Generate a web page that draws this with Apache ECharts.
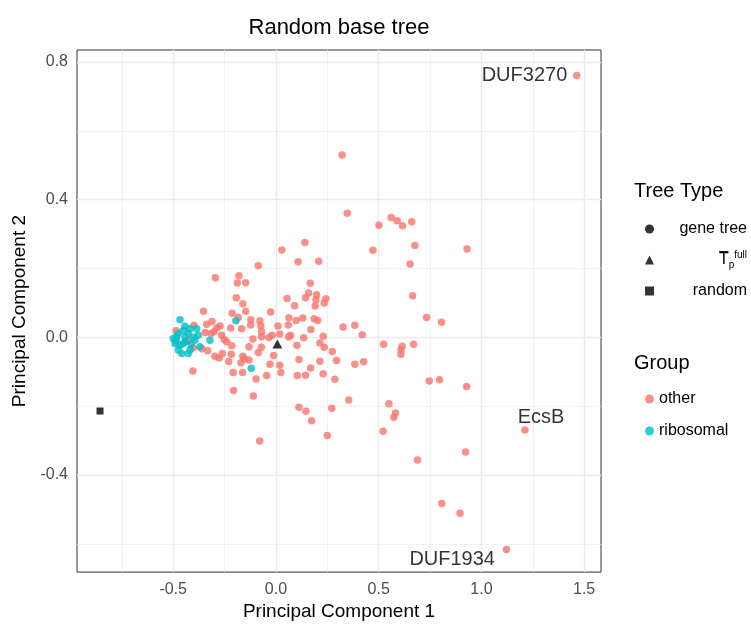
<!DOCTYPE html>
<html>
<head>
<meta charset="utf-8">
<script src="https://cdn.jsdelivr.net/npm/echarts@6/dist/echarts.min.js"></script>
<style>
html,body{margin:0;padding:0;background:#fff;}
#chart{width:751px;height:626px;}
</style>
</head>
<body>
<div id="chart"></div>
<script>
// ---- data ----
const otherPoints = [
[0.141,0.276],[0.029,0.254],[0.108,0.220],[0.208,0.221],[-0.086,0.208],[-0.295,0.173],[-0.180,0.179],[-0.188,0.158],[-0.147,0.159],[0.167,0.157],
[0.159,0.129],[0.198,0.124],[-0.193,0.115],[0.054,0.113],[0.144,0.115],[0.195,0.109],[0.243,0.112],[0.235,0.100],[-0.161,0.098],[0.091,0.092],
[0.191,0.091],[-0.352,0.076],[-0.147,0.076],[-0.213,0.070],[-0.026,0.074],[0.063,0.057],[0.099,0.049],[0.131,0.056],[0.186,0.054],[0.204,0.049],
[-0.183,0.058],[-0.311,0.046],[-0.337,0.038],[-0.122,0.051],[-0.078,0.048],[-0.123,0.036],[-0.073,0.033],[0.060,0.036],[-0.272,0.033],[-0.288,0.027],
[-0.167,0.025],[-0.220,0.027],[0.010,0.033],[0.170,0.023],[0.327,0.030],[0.384,0.035],[-0.070,0.016],[-0.018,0.006],[0.019,0.010],[0.062,0.001],
[0.071,0.006],[0.420,0.008],[-0.316,0.011],[-0.264,0.006],[-0.251,-0.006],[-0.240,-0.013],[-0.215,-0.024],[-0.112,-0.005],[-0.070,0.002],[-0.034,0.000],
[0.135,-0.001],[0.230,0.003],[0.214,-0.016],[0.235,-0.029],[0.102,-0.023],[-0.131,-0.027],[-0.071,-0.029],[0.274,-0.041],[-0.332,-0.039],[-0.086,-0.044],
[-0.011,-0.053],[-0.217,-0.049],[-0.261,-0.047],[-0.297,-0.055],[-0.276,-0.060],[-0.161,-0.055],[-0.154,-0.063],[-0.170,-0.074],[-0.230,-0.070],[0.112,-0.064],
[0.214,-0.069],[0.295,-0.067],[0.427,-0.071],[0.384,-0.078],[-0.029,-0.078],[0.019,-0.081],[0.169,-0.089],[-0.208,-0.102],[-0.162,-0.102],[0.024,-0.102],
[-0.045,-0.111],[-0.097,-0.121],[0.104,-0.111],[0.144,-0.110],[0.230,-0.106],[0.287,-0.122],[-0.206,-0.154],[-0.110,-0.170],[0.354,-0.182],[0.112,-0.203],
[0.146,-0.215],[0.272,-0.206],[0.174,-0.242],[-0.404,-0.098],[-0.486,0.019],[-0.399,0.035],[-0.344,0.014],[-0.302,0.016],[-0.427,-0.009],[-0.360,-0.033],
[-0.131,-0.066],[-0.402,-0.030],[-0.079,-0.301],
[0.322,0.530],[0.347,0.361],[0.561,0.348],[0.590,0.339],[0.616,0.324],[0.661,0.336],[0.501,0.326],[0.676,0.267],[0.472,0.253],[0.653,0.213],
[0.665,0.121],[0.733,0.058],[0.806,0.044],[0.524,-0.020],[0.614,-0.026],[0.609,-0.036],[0.608,-0.049],[0.670,-0.020],[0.746,-0.127],[0.796,-0.123],
[0.550,-0.193],[0.582,-0.220],[0.574,-0.232],[0.522,-0.273],[0.250,-0.285],[0.930,0.257],[0.928,-0.143],[0.689,-0.356],[0.923,-0.333],[0.807,-0.483],
[0.896,-0.511],
[1.464,0.761],[1.212,-0.269],[1.122,-0.616]
];
const ribosomalPoints = [
[-0.467,0.051],[-0.443,0.032],[-0.451,0.020],[-0.427,0.011],[-0.483,0.001],[-0.500,-0.003],[-0.491,-0.018],[-0.467,-0.023],[-0.451,-0.018],[-0.475,-0.037],
[-0.459,-0.047],[-0.427,-0.047],[-0.394,-0.008],[-0.378,0.006],[-0.386,0.025],[-0.402,0.001],[-0.370,-0.027],[-0.321,-0.008],[-0.418,-0.037],[-0.443,0.001],
[-0.476,0.011],[-0.438,-0.012],[-0.413,-0.021],[-0.486,-0.010],[-0.418,0.025],
[-0.195,0.048],[-0.120,-0.090]
];
const fullTreePoints = [[0.007,-0.019]];
const randomPoints = [[-0.856,-0.214]];
const labelNames = ['DUF3270','EcsB','DUF1934'];
const labelPoints = [[1.464,0.761],[1.212,-0.269],[1.122,-0.616]];
const xTicks = [-0.5,0,0.5,1,1.5];
const yTicks = [-0.4,0,0.4,0.8];
const xMinorGrid = [-0.75,-0.25,0.25,0.75,1.25];
const yMinorGrid = [-0.6,-0.2,0.2,0.6];
const xRange = [-0.968,1.582];
const yRange = [-0.682,0.835];
const treeTypeNames = ['gene tree','Tfull','random'];
const groupNames = ['other','ribosomal'];

// ---- styles ----
const FONT = '"Liberation Sans", Arial, Helvetica, sans-serif';
const PINK = '#F8766D', CYAN = '#00BFC4';
const labelPlacement = [
  {position:'left', distance:9, offset:[0,0]},
  {position:'top', distance:2, offset:[16,0]},
  {position:'left', distance:11, offset:[0,10]}
];

const gridLines = [];
xTicks.forEach(v => gridLines.push({xAxis:v, lineStyle:{width:1.4}}));
xMinorGrid.forEach(v => gridLines.push({xAxis:v, lineStyle:{width:0.7}}));
yTicks.forEach(v => gridLines.push({yAxis:v, lineStyle:{width:1.4}}));
yMinorGrid.forEach(v => gridLines.push({yAxis:v, lineStyle:{width:0.7}}));

const fmt = v => (Math.round(v*10)/10).toFixed(1);

const chart = echarts.init(document.getElementById('chart'), null, {renderer:'canvas'});
const option = {
  animation:false,
  backgroundColor:'#ffffff',
  textStyle:{fontFamily:FONT},
  title:[
    {text:'Random base tree', left:339, top:17, textAlign:'center', padding:0,
     textStyle:{fontSize:22, fontWeight:'normal', color:'#000', fontFamily:FONT}},
    {text:'Tree Type', left:634, top:181, padding:0,
     textStyle:{fontSize:20, fontWeight:'normal', color:'#000', fontFamily:FONT}},
    {text:'Group', left:634, top:353, padding:0,
     textStyle:{fontSize:20, fontWeight:'normal', color:'#000', fontFamily:FONT}}
  ],
  grid:{left:77, top:50, width:524, height:525, show:true, borderColor:'#333333', borderWidth:1, backgroundColor:'transparent', containLabel:false},
  xAxis:{
    type:'value', min:xRange[0], max:xRange[1],
    name:'Principal Component 1', nameLocation:'middle', nameGap:25,
    nameTextStyle:{fontSize:19, color:'#000', fontFamily:FONT},
    axisLine:{show:false},
    axisTick:{show:true, length:5, lineStyle:{color:'#333333', width:1}, customValues:xTicks},
    axisLabel:{customValues:xTicks, formatter:fmt, fontSize:16, color:'#4D4D4D', margin:9, fontFamily:FONT},
    splitLine:{show:false}, minorSplitLine:{show:false}
  },
  yAxis:{
    type:'value', min:yRange[0], max:yRange[1],
    name:'Principal Component 2', nameLocation:'middle', nameGap:48, nameRotate:90,
    nameTextStyle:{fontSize:19, color:'#000', fontFamily:FONT},
    axisLine:{show:false},
    axisTick:{show:true, length:5, lineStyle:{color:'#333333', width:1}, customValues:yTicks},
    axisLabel:{customValues:yTicks, formatter:fmt, fontSize:16, color:'#4D4D4D', margin:9, fontFamily:FONT},
    splitLine:{show:false}, minorSplitLine:{show:false}
  },
  legend:[
    {
      data:[
        {name:'gene tree', icon:'circle'},
        {name:'Tfull', icon:'triangle'},
        {name:'random', icon:'rect'}
      ],
      orient:'vertical', left:645, top:219, padding:0,
      itemWidth:9, itemHeight:9, itemGap:11, selectedMode:false,
      formatter:function(name){
        if(name==='Tfull') return '{t|T\u0305}{s|p}{u|full}';
        return '{r|'+name+'}';
      },
      textStyle:{
        width:88, color:'#000', fontFamily:FONT, fontSize:16, lineHeight:20,
        rich:{
          r:{align:'right', fontSize:16, lineHeight:20, color:'#000', fontFamily:FONT},
          t:{align:'right', fontSize:16, lineHeight:20, color:'#000', fontFamily:FONT},
          s:{align:'right', fontSize:10, lineHeight:20, verticalAlign:'bottom', color:'#000', fontFamily:FONT, padding:[8,0,0,0]},
          u:{align:'right', fontSize:10, lineHeight:20, verticalAlign:'top', color:'#000', fontFamily:FONT, padding:[0,0,8,0]}
        }
      }
    },
    {
      data:groupNames.map(n => ({name:n, icon:'circle'})),
      orient:'vertical', left:645, top:389, padding:0,
      itemWidth:9, itemHeight:9, itemGap:12, selectedMode:false,
      textStyle:{color:'#000', fontFamily:FONT, fontSize:16, lineHeight:20}
    }
  ],
  series:[
    {
      name:'grid', type:'scatter', data:[], silent:true, z:1,
      markLine:{
        z:1, silent:true, symbol:['none','none'], animation:false,
        label:{show:false}, emphasis:{disabled:true},
        lineStyle:{color:'#EBEBEB', type:'solid', width:1},
        data:gridLines
      }
    },
    {name:treeTypeNames[0], type:'scatter', data:[], symbol:'circle', itemStyle:{color:'#000'}},
    {
      name:groupNames[0], type:'scatter', data:otherPoints, symbol:'circle', symbolSize:7.5, silent:true, z:3,
      itemStyle:{color:PINK, opacity:0.8}
    },
    {
      name:groupNames[1], type:'scatter', data:ribosomalPoints, symbol:'circle', symbolSize:7.5, silent:true, z:4,
      itemStyle:{color:CYAN, opacity:0.8}
    },
    {
      name:treeTypeNames[1], type:'scatter', data:fullTreePoints, symbol:'triangle', symbolSize:[10,9], silent:true, z:5,
      itemStyle:{color:'#000'}
    },
    {
      name:treeTypeNames[2], type:'scatter', data:randomPoints, symbol:'rect', symbolSize:7, silent:true, z:5,
      itemStyle:{color:'#000'}
    },
    {
      name:'labels', type:'scatter', silent:true, z:6, symbolSize:1,
      itemStyle:{color:'rgba(0,0,0,0)'},
      data:labelPoints.map((p,i) => ({
        value:p,
        label:Object.assign({show:true, formatter:labelNames[i], fontSize:20, color:'#000', fontFamily:FONT}, labelPlacement[i])
      }))
    }
  ]
};
chart.setOption(option);
</script>
</body>
</html>
